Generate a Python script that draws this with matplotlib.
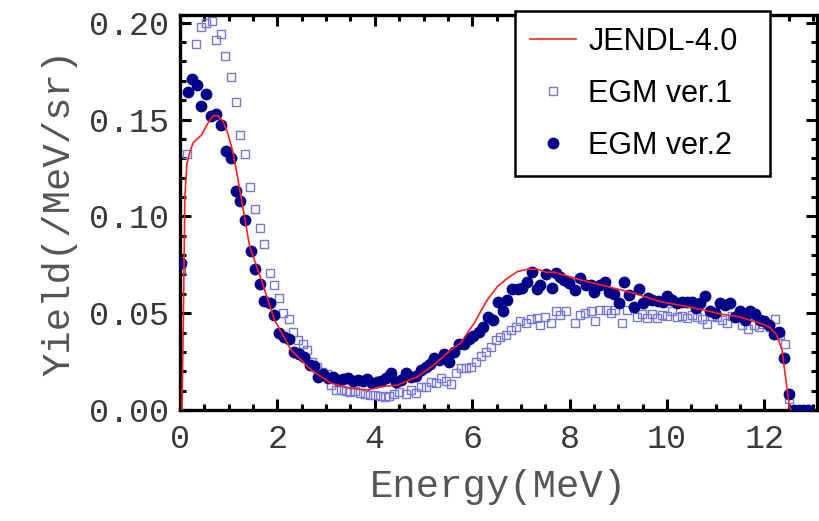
import matplotlib
matplotlib.use("Agg")
import matplotlib.pyplot as plt
from matplotlib.ticker import MultipleLocator, FormatStrFormatter

# --- DATA ---
jendl_e = [0.04, 0.07, 0.10, 0.14, 0.20, 0.27, 0.44, 0.57, 0.68, 0.78, 0.88, 0.98,
           1.09, 1.19, 1.43, 1.67, 1.94, 2.28, 2.69, 3.10, 3.51, 3.85, 4.12, 4.47,
           4.88, 5.22, 5.56, 5.76, 5.90, 6.04, 6.17, 6.31, 6.52, 6.72, 6.93, 7.13,
           7.34, 7.54, 7.68, 8.22, 8.77, 9.32, 9.86, 10.41, 10.82, 11.09, 11.50,
           11.91, 12.11, 12.25, 12.36, 12.46, 12.51, 12.55]
jendl_y = [0.0, 0.05, 0.11, 0.127, 0.133, 0.138, 0.142, 0.148, 0.152, 0.152, 0.149, 0.143,
           0.133, 0.119, 0.0845, 0.0672, 0.0465, 0.031, 0.0207, 0.0138, 0.0112, 0.0103, 0.012, 0.0129,
           0.0172, 0.0235, 0.031, 0.0345, 0.0397, 0.0448, 0.0508, 0.0569, 0.0638, 0.068, 0.0715, 0.0727,
           0.0727, 0.071, 0.0712, 0.0672, 0.0638, 0.0603, 0.056, 0.0534, 0.0513, 0.0496, 0.048,
           0.0448, 0.0427, 0.0388, 0.031, 0.012, 0.0017, 0.0]

ver1_e = [0.03, 0.14, 0.33, 0.44, 0.54, 0.66, 0.73, 0.85, 0.93, 1.04, 1.14, 1.24, 1.34,
          1.44, 1.54, 1.65, 1.73, 1.84, 1.93, 2.04, 2.12, 2.23, 2.33, 2.43, 2.52, 2.61,
          2.70, 2.81, 2.91, 3.02, 3.10, 3.20, 3.30, 3.40, 3.50, 3.60, 3.70, 3.80, 3.90,
          4.00, 4.10, 4.20, 4.30, 4.40, 4.50, 4.64, 4.74, 4.84, 4.94, 5.05, 5.15, 5.25,
          5.36, 5.46, 5.56, 5.66, 5.76, 5.87, 5.97, 6.07, 6.17, 6.28, 6.38, 6.48, 6.58,
          6.69, 6.79, 6.89, 6.99, 7.10, 7.20, 7.32, 7.40, 7.50, 7.61, 7.71, 7.81, 7.92,
          8.12, 8.22, 8.32, 8.43, 8.53, 8.63, 8.74, 8.84, 8.94, 9.08, 9.18, 9.39, 9.49,
          9.59, 9.69, 9.80, 9.90, 10.00, 10.10, 10.20, 10.31, 10.41, 10.51, 10.61, 10.72,
          10.82, 10.92, 11.02, 11.13, 11.23, 11.33, 11.43, 11.54, 11.67, 11.78, 11.88,
          11.98, 12.12, 12.22, 12.32, 12.42, 12.51, 12.60, 12.70, 12.80, 12.90]
ver1_y = [0.073, 0.132, 0.189, 0.198, 0.200, 0.201, 0.191, 0.194, 0.183, 0.172, 0.159, 0.142, 0.132,
          0.115, 0.104, 0.094, 0.0857, 0.071, 0.0646, 0.058, 0.050, 0.047, 0.0405, 0.036, 0.034, 0.031,
          0.025, 0.022, 0.0198, 0.0186, 0.013, 0.0105, 0.0103, 0.0100, 0.0095, 0.0098, 0.0090, 0.0080, 0.0078,
          0.0075, 0.0070, 0.0068, 0.0072, 0.0085, 0.0095, 0.0083, 0.0103, 0.0086, 0.012, 0.012, 0.0146, 0.0138,
          0.0164, 0.0152, 0.0134, 0.019, 0.0215, 0.0215, 0.0224, 0.025, 0.028, 0.030, 0.0327, 0.036, 0.0376,
          0.0388, 0.0414, 0.0428, 0.0457, 0.045, 0.047, 0.0474, 0.044, 0.048, 0.0448, 0.051, 0.049, 0.051,
          0.045, 0.049, 0.050, 0.051, 0.0457, 0.0517, 0.0517, 0.050, 0.0517, 0.045, 0.0517, 0.048, 0.0496,
          0.0474, 0.0496, 0.0474, 0.049, 0.0486, 0.051, 0.048, 0.0486, 0.0474, 0.049, 0.048, 0.047,
          0.0445, 0.0486, 0.048, 0.0465, 0.0448, 0.0486, 0.048, 0.044, 0.042, 0.044, 0.043,
          0.0445, 0.043, 0.047, 0.0388, 0.034, 0.0055, 0.0, 0.0, 0.0, 0.0]

ver2_e = [0.03, 0.16, 0.25, 0.35, 0.44, 0.54, 0.64, 0.74, 0.85, 0.95, 1.04, 1.14, 1.24,
          1.34, 1.45, 1.54, 1.65, 1.73, 1.84, 1.94, 2.04, 2.13, 2.23, 2.34, 2.44, 2.54,
          2.66, 2.75, 2.84, 2.94, 3.03, 3.14, 3.24, 3.34, 3.44, 3.55, 3.65, 3.75, 3.84,
          3.94, 4.04, 4.12, 4.23, 4.33, 4.43, 4.53, 4.64, 4.74, 4.84, 4.94, 5.05, 5.14,
          5.22, 5.32, 5.42, 5.52, 5.63, 5.73, 5.83, 5.93, 6.02, 6.13, 6.23, 6.32, 6.43,
          6.52, 6.63, 6.72, 6.82, 6.93, 7.03, 7.12, 7.23, 7.32, 7.40, 7.51, 7.64, 7.71,
          7.80, 7.88, 7.98, 8.11, 8.22, 8.33, 8.43, 8.51, 8.63, 8.72, 8.80, 8.91, 9.02,
          9.12, 9.21, 9.32, 9.42, 9.51, 9.60, 9.70, 9.81, 9.91, 10.00, 10.10, 10.20,
          10.31, 10.41, 10.51, 10.60, 10.68, 10.78, 10.89, 10.99, 11.09, 11.19, 11.30,
          11.40, 11.50, 11.61, 11.71, 11.80, 11.90, 12.00, 12.10, 12.20, 12.30, 12.41,
          12.51, 12.60, 12.70, 12.80, 12.90]
ver2_y = [0.076, 0.164, 0.171, 0.168, 0.157, 0.163, 0.152, 0.153, 0.147, 0.134, 0.130, 0.113, 0.108,
          0.098, 0.082, 0.073, 0.065, 0.0565, 0.055, 0.049, 0.040, 0.0376, 0.0365, 0.030, 0.029, 0.0276,
          0.023, 0.0227, 0.0172, 0.0186, 0.0164, 0.0172, 0.0155, 0.0159, 0.0167, 0.0152, 0.0155, 0.0152, 0.016,
          0.0138, 0.0146, 0.0152, 0.0164, 0.019, 0.0146, 0.0155, 0.019, 0.017, 0.0176, 0.0207, 0.022, 0.024,
          0.0267, 0.026, 0.029, 0.0246, 0.030, 0.034, 0.034, 0.0367, 0.038, 0.0405, 0.0428, 0.048, 0.0465,
          0.056, 0.051, 0.057, 0.0624, 0.0624, 0.063, 0.066, 0.0715, 0.0624, 0.0646, 0.070, 0.063, 0.0707,
          0.0686, 0.067, 0.0655, 0.062, 0.068, 0.0646, 0.0646, 0.061, 0.0646, 0.066, 0.061, 0.060, 0.0555,
          0.066, 0.0595, 0.0534, 0.0624, 0.0555, 0.0577, 0.057, 0.0565, 0.0557, 0.059, 0.057, 0.0555,
          0.056, 0.056, 0.056, 0.0526, 0.055, 0.059, 0.051, 0.050, 0.0555, 0.054, 0.055,
          0.048, 0.051, 0.0465, 0.051, 0.0496, 0.0465, 0.0457, 0.044, 0.039, 0.0405, 0.0267,
          0.008, 0.0, 0.0, 0.0, 0.0]

x_ticks = [0, 2, 4, 6, 8, 10, 12]
y_ticks = [0.00, 0.05, 0.10, 0.15, 0.20]

# --- FIGURE ---
fig = plt.figure(figsize=(8.19, 5.21), dpi=100, facecolor='white')
ax = fig.add_axes([0.2198, 0.2131, 0.7778, 0.7581])

ax.plot(ver1_e, ver1_y, 's', ms=6.3, mfc='none', mec='#7676dc', mew=1.0,
        label='EGM ver.1', zorder=2)
ax.plot(ver2_e, ver2_y, 'o', ms=7.5, color='#000088', mec='#000088',
        label='EGM ver.2', zorder=3)
ax.plot(jendl_e, jendl_y, '-', color='#ff2020', lw=1.2, label='JENDL-4.0', zorder=4)

ax.set_xlim(0, 13.08)
ax.set_ylim(0, 0.204)
ax.set_xticks(x_ticks)
ax.set_yticks(y_ticks)
ax.xaxis.set_minor_locator(MultipleLocator(0.5))
ax.yaxis.set_minor_locator(MultipleLocator(0.01))
ax.yaxis.set_major_formatter(FormatStrFormatter('%.2f'))

mono = 'Liberation Mono'
for lab in ax.get_xticklabels() + ax.get_yticklabels():
    lab.set_fontfamily(mono)
    lab.set_fontsize(24)
    lab.set_color('#3a3a3a')

ax.tick_params(which='both', direction='in', top=True, right=True, width=2.2)
ax.tick_params(which='major', length=8)
ax.tick_params(which='minor', length=4.5)
ax.tick_params(axis='x', which='major', pad=10)
ax.tick_params(axis='y', which='major', pad=8)
for s in ax.spines.values():
    s.set_linewidth(2.4)

ax.set_xlabel('Energy(MeV)', fontfamily=mono, fontsize=28, color='#555555', labelpad=10)
ax.set_ylabel('Yield(/MeV/sr)', fontfamily=mono, fontsize=28, color='#555555', labelpad=8)

h, l = ax.get_legend_handles_labels()
order = [2, 0, 1]
leg = ax.legend([h[i] for i in order], [l[i] for i in order],
                loc='upper left', bbox_to_anchor=(0.526, 1.009, 0.400, 0.0),
                mode='expand',
                prop={'family': 'Liberation Sans', 'size': 22},
                fancybox=False, framealpha=1, edgecolor='black',
                handlelength=1.5, handletextpad=0.4, labelspacing=0.72,
                borderpad=0.5, borderaxespad=0)
leg.get_frame().set_linewidth(1.8)
leg.set_zorder(10)

fig.savefig('out.png', dpi=100)
